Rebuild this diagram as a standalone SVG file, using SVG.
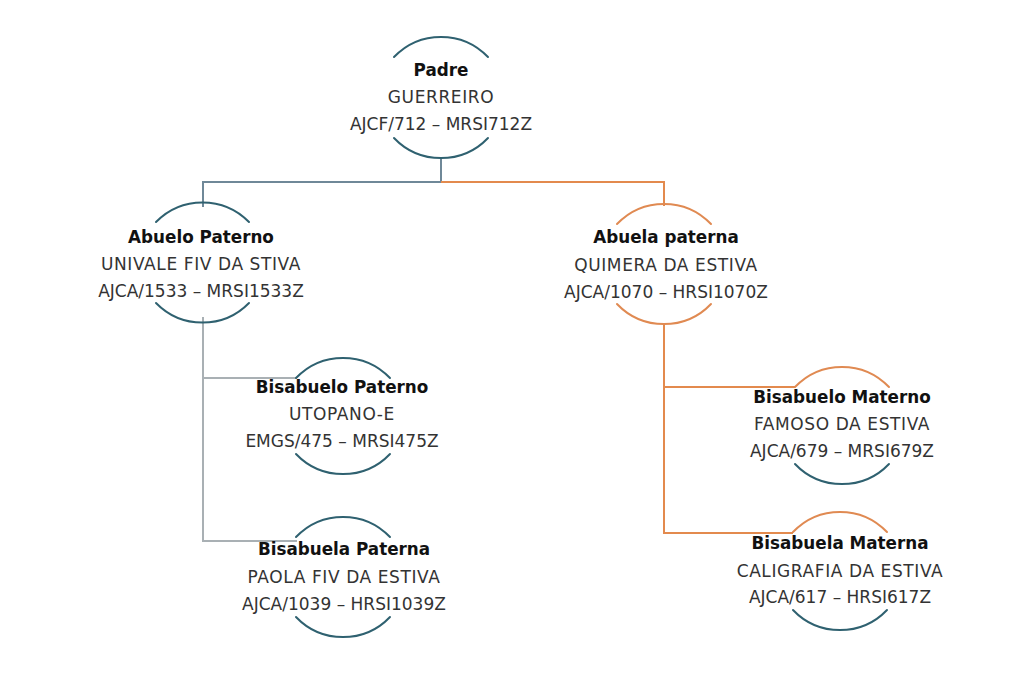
<svg xmlns="http://www.w3.org/2000/svg" width="1024" height="694" viewBox="0 0 1024 694">
<style>
.bg{fill:#ffffff}
.arc{fill:none;stroke-width:2;stroke-linecap:round}
.teal{stroke:#2f6170}
.orange{stroke:#e08a52}
.c-blue{fill:none;stroke:#6f8898;stroke-width:2}
.c-orange{fill:none;stroke:#e38a4e;stroke-width:2}
.c-gray{fill:none;stroke:#a9b0b4;stroke-width:2}
text{font-family:"DejaVu Sans","Liberation Sans",sans-serif;font-size:17px;letter-spacing:0.6px;text-anchor:middle;fill:#333333}
.code{letter-spacing:0px}
.title{font-weight:bold;fill:#111111;font-size:16.8px;letter-spacing:0px}
</style>
<rect class="bg" x="0" y="0" width="1024" height="694"/>
<g id="connectors">
<polyline class="c-blue" points="441,157 441,182"/>
<polyline class="c-blue" points="441,182 203,182 203,207"/>
<polyline class="c-orange" points="441,182 664,182 664,206"/>
<polyline class="c-gray" points="203,317 203,541 297,541"/>
<polyline class="c-gray" points="203,378 297,378"/>
<polyline class="c-orange" points="664,323 664,533 793,533"/>
<polyline class="c-orange" points="664,387 795,387"/>
</g>
<g id="padre">
<path class="arc teal" d="M394,57 A65,65 0 0 1 488,57"/>
<path class="arc teal" d="M394,138 A65,65 0 0 0 488,138"/>
<text class="title" x="441" y="76">Padre</text>
<text x="441" y="103">GUERREIRO</text>
<text class="code" x="441" y="130">AJCF/712 – MRSI712Z</text>
</g>
<g id="abuelo-paterno">
<path class="arc teal" d="M156,222 A65,65 0 0 1 249,222"/>
<path class="arc teal" d="M156,303 A65,65 0 0 0 249,303"/>
<text class="title" x="201" y="243">Abuelo Paterno</text>
<text x="201" y="270">UNIVALE FIV DA STIVA</text>
<text class="code" x="201" y="297">AJCA/1533 – MRSI1533Z</text>
</g>
<g id="abuela-paterna">
<path class="arc orange" d="M617,224 A65,65 0 0 1 711,224"/>
<path class="arc orange" d="M617,304 A65,65 0 0 0 711,304"/>
<text class="title" x="666" y="243">Abuela paterna</text>
<text x="666" y="271">QUIMERA DA ESTIVA</text>
<text class="code" x="666" y="298">AJCA/1070 – HRSI1070Z</text>
</g>
<g id="bisabuelo-paterno">
<path class="arc teal" d="M296,378 A65,65 0 0 1 390,378"/>
<path class="arc teal" d="M296,454 A65,65 0 0 0 390,454"/>
<text class="title" x="342" y="393">Bisabuelo Paterno</text>
<text x="342" y="420">UTOPANO-E</text>
<text class="code" x="342" y="447">EMGS/475 – MRSI475Z</text>
</g>
<g id="bisabuela-paterna">
<path class="arc teal" d="M296,537 A65,65 0 0 1 390,537"/>
<path class="arc teal" d="M296,617 A65,65 0 0 0 390,617"/>
<text class="title" x="344" y="555">Bisabuela Paterna</text>
<text x="344" y="583">PAOLA FIV DA ESTIVA</text>
<text class="code" x="344" y="610">AJCA/1039 – HRSI1039Z</text>
</g>
<g id="bisabuelo-materno">
<path class="arc orange" d="M795,387 A65,65 0 0 1 889,387"/>
<path class="arc teal" d="M795,464 A65,65 0 0 0 889,464"/>
<text class="title" x="842" y="403">Bisabuelo Materno</text>
<text x="842" y="430">FAMOSO DA ESTIVA</text>
<text class="code" x="842" y="457">AJCA/679 – MRSI679Z</text>
</g>
<g id="bisabuela-materna">
<path class="arc orange" d="M793,532 A65,65 0 0 1 887,532"/>
<path class="arc teal" d="M793,610 A65,65 0 0 0 887,610"/>
<text class="title" x="840" y="549">Bisabuela Materna</text>
<text x="840" y="577">CALIGRAFIA DA ESTIVA</text>
<text class="code" x="840" y="603">AJCA/617 – HRSI617Z</text>
</g>
</svg>
